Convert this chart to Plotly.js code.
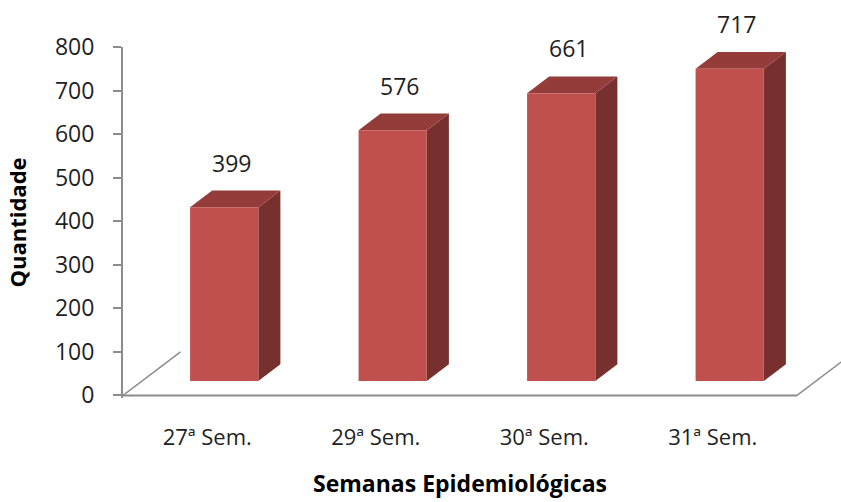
<!DOCTYPE html>
<html>
<head>
<meta charset="utf-8">
<script src="https://cdn.plot.ly/plotly-3.0.1.min.js"></script>
<style>html,body{margin:0;padding:0;background:#fff;}#chart{width:841px;height:502px;}</style>
</head>
<body>
<div id="chart"></div>
<script>
// ---- data ----
const categories = ["27ª Sem.", "29ª Sem.", "30ª Sem.", "31ª Sem."];
const values = [399, 576, 661, 717];
const yTickVals = [0, 100, 200, 300, 400, 500, 600, 700, 800];
const yTitle = "Quantidade";
const xTitle = "Semanas Epidemiológicas";

// ---- 3D geometry (in axis units) ----
const OX = 0.1006;   // front-face centre offset from slot centre (x units)
const W = 0.405;     // bar width (x units)
const B0 = 32.8;     // front-face base lift (y units)
const DDX = 0.131;   // depth shift x
const DDY = 38.5;    // depth shift y
const FLOOR_DX = 0.3412, FLOOR_DY = 99.8;

const FRONT = "#C0504D", TOP = "#933C3A", SIDE = "#78302E", AXIS = "#8C8C8C";
const FONT = "Open Sans, Lato, sans-serif";
const TXT = "#1f1f1f";

const traces = [];
// floor lines
traces.push({x: [-0.5, 3.5], y: [0, 0], mode: "lines", line: {color: AXIS, width: 2}, hoverinfo: "skip", showlegend: false});
traces.push({x: [-0.5, -0.5 + FLOOR_DX], y: [0, FLOOR_DY], mode: "lines", line: {color: AXIS, width: 1.5}, hoverinfo: "skip", showlegend: false});
traces.push({x: [3.5, 3.5 + FLOOR_DX], y: [0, FLOOR_DY], mode: "lines", line: {color: AXIS, width: 1.5}, hoverinfo: "skip", showlegend: false});

values.forEach((v, i) => {
  const xl = i + OX - W / 2, xr = i + OX + W / 2;
  const yb = B0, yt = B0 + v;
  traces.push({x: [xr, xr + DDX, xr + DDX, xr, xr], y: [yb, yb + DDY, yt + DDY, yt, yb],
    mode: "lines", fill: "toself", fillcolor: SIDE, line: {width: 0, color: SIDE}, hoverinfo: "skip", showlegend: false});
  traces.push({x: [xl, xr, xr + DDX, xl + DDX, xl], y: [yt, yt, yt + DDY, yt + DDY, yt],
    mode: "lines", fill: "toself", fillcolor: TOP, line: {width: 0, color: TOP}, hoverinfo: "skip", showlegend: false});
  traces.push({x: [xl, xr, xr, xl, xl], y: [yb, yb, yt, yt, yb],
    mode: "lines", fill: "toself", fillcolor: FRONT, line: {width: 0, color: FRONT}, hoverinfo: "skip", showlegend: false});
});

// value labels (anchored at the back top edge of each bar)
const annotations = values.map((v, i) => ({
  x: i + 0.141, y: B0 + v + DDY, xref: "x", yref: "y",
  text: String(v), showarrow: false, yshift: 28,
  xanchor: "center", yanchor: "middle",
  font: {family: FONT, size: 23, color: TXT}
}));
// x-axis title, centred under the floor
annotations.push({
  x: (categories.length - 1) / 2, xref: "x", y: 0, yref: "paper",
  text: xTitle, showarrow: false, xanchor: "center", yanchor: "middle", yshift: -85,
  font: {family: FONT, size: 23, weight: 700, color: "#000"}
});

const layout = {
  width: 841, height: 502,
  margin: {l: 123, r: 0, t: 47, b: 104},
  paper_bgcolor: "#fff", plot_bgcolor: "rgba(0,0,0,0)",
  showlegend: false,
  font: {family: FONT, size: 23, color: TXT},
  annotations: annotations,
  xaxis: {
    range: [-0.5, -0.5 + 718 / 168.5], showgrid: false, zeroline: false, showline: false,
    tickvals: [0, 1, 2, 3], ticktext: categories, ticks: "", ticklabelstandoff: 24,
    tickfont: {family: FONT, size: 22, color: TXT},
    fixedrange: true
  },
  yaxis: {
    range: [-6, 800], showgrid: false, zeroline: false, showline: true, linecolor: AXIS, linewidth: 2,
    tickvals: yTickVals, ticks: "outside", ticklen: 8, tickwidth: 2, tickcolor: AXIS,
    ticklabelstandoff: 14,
    tickfont: {family: FONT, size: 23, color: TXT},
    title: {text: yTitle, font: {family: FONT, size: 22, weight: 700, color: "#000"}, standoff: 22},
    fixedrange: true
  }
};

Plotly.newPlot("chart", traces, layout, {displayModeBar: false, staticPlot: true});
</script>
</body>
</html>
